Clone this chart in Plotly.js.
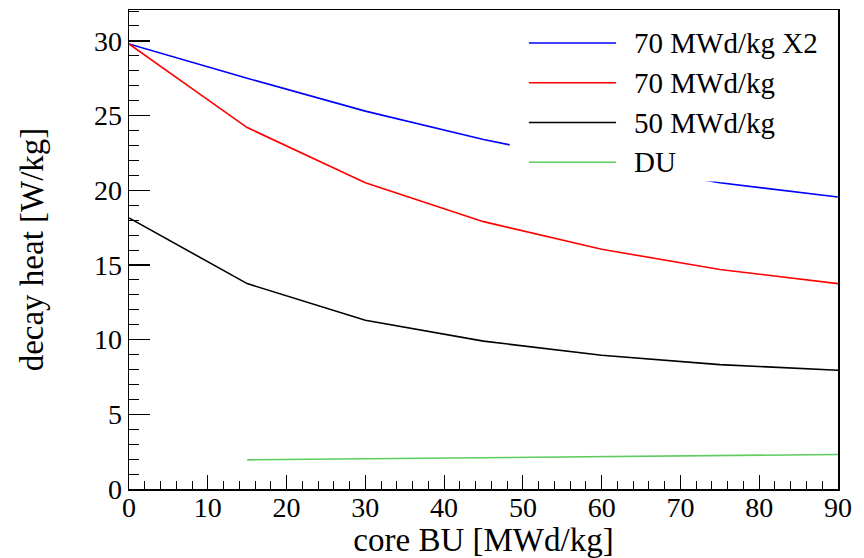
<!DOCTYPE html>
<html>
<head>
<meta charset="utf-8">
<script src="https://cdn.plot.ly/plotly-3.0.1.min.js"></script>
<style>body{margin:0;background:#fff}#chart{width:864px;height:558px}</style>
</head>
<body>
<div id="chart"></div>
<script>
var burnup = [0, 15, 30, 45, 60, 75, 90];
var burnupDU = [15, 30, 45, 60, 75, 90];
var heat70x2 = [29.8, 27.5, 25.3, 23.4, 21.8, 20.5, 19.55];
var heat70 = [29.8, 24.2, 20.5, 17.9, 16.05, 14.7, 13.75];
var heat50 = [18.15, 13.75, 11.3, 9.9, 8.95, 8.33, 7.95];
var heatDU = [1.95, 2.02, 2.09, 2.16, 2.23, 2.31];
var seriesNames = ["70 MWd/kg X2", "70 MWd/kg", "50 MWd/kg", "DU"];
var seriesColors = ["#0000ff", "#ff0000", "#000000", "#5fcc5f"];

var xs = [burnup, burnup, burnup, burnupDU];
var ys = [heat70x2, heat70, heat50, heatDU];
var traces = [];
for (var i = 0; i < 4; i++) {
  traces.push({x: xs[i], y: ys[i], name: seriesNames[i], type: 'scatter', mode: 'lines',
    line: {color: seriesColors[i], width: 1.6}, showlegend: false});
}

var font = "Liberation Serif";
var shapes = [{type: 'rect', xref: 'paper', yref: 'paper', x0: 0.537, x1: 0.995, y0: 0.642, y1: 0.996,
  fillcolor: '#ffffff', line: {width: 0}, layer: 'above'}];
var annotations = [];
var rowY = [0.931, 0.848, 0.765, 0.682];
for (var j = 0; j < 4; j++) {
  shapes.push({type: 'line', xref: 'paper', yref: 'paper', x0: 0.564, x1: 0.687, y0: rowY[j], y1: rowY[j],
    line: {color: seriesColors[j], width: 1.6}, layer: 'above'});
  annotations.push({xref: 'paper', yref: 'paper', x: 0.709, y: rowY[j], xanchor: 'left', yanchor: 'middle',
    text: seriesNames[j], showarrow: false, font: {family: font, size: 29, color: '#000'}});
}

var layout = {
  width: 864, height: 558,
  margin: {l: 129, r: 26, t: 8, b: 69},
  paper_bgcolor: '#fff', plot_bgcolor: '#fff',
  font: {family: font, color: '#000'},
  showlegend: false,
  xaxis: {range: [0, 90], dtick: 10, tick0: 0, ticks: 'inside', ticklen: 14, tickwidth: 1.2, tickcolor: '#000',
    minor: {dtick: 2, ticks: 'inside', ticklen: 8, tickwidth: 1, tickcolor: '#000'},
    showgrid: false, zeroline: false, showline: true, linecolor: '#000', linewidth: 1.5, mirror: true,
    tickfont: {family: font, size: 28, color: '#000'}, ticklabelstandoff: -7, automargin: true,
    title: {text: 'core BU [MWd/kg]', font: {family: font, size: 33, color: '#000'}, standoff: 3}},
  yaxis: {range: [0, 32.07], dtick: 5, tick0: 0, ticks: 'inside', ticklen: 21, tickwidth: 1.2, tickcolor: '#000',
    minor: {dtick: 1, ticks: 'inside', ticklen: 10, tickwidth: 1, tickcolor: '#000'},
    showgrid: false, zeroline: false, showline: true, linecolor: '#000', linewidth: 1.5, mirror: true,
    tickfont: {family: font, size: 28, color: '#000'}, automargin: true,
    title: {text: 'decay heat [W/kg]', font: {family: font, size: 33, color: '#000'}, standoff: 40}},
  shapes: shapes,
  annotations: annotations
};
Plotly.newPlot('chart', traces, layout, {staticPlot: true});
</script>
</body>
</html>
